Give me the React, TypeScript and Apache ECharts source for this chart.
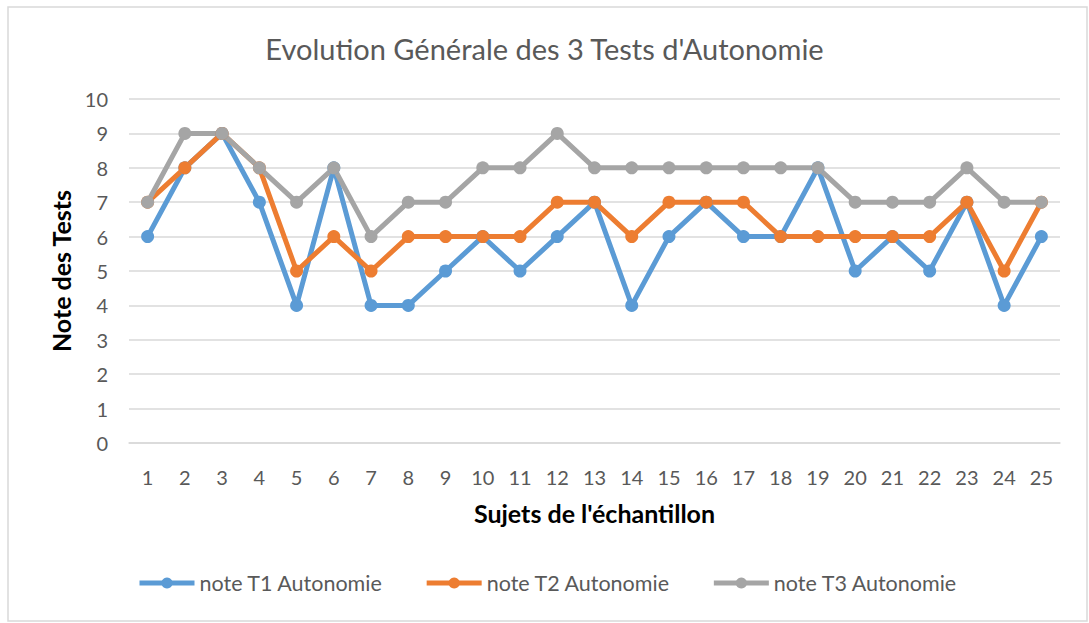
import React, { useEffect, useRef } from "react";
import * as echarts from "echarts";

const subjects = ["1","2","3","4","5","6","7","8","9","10","11","12","13","14","15","16","17","18","19","20","21","22","23","24","25"];
const t1 = [6, 8, 9, 7, 4, 8, 4, 4, 5, 6, 5, 6, 7, 4, 6, 7, 6, 6, 8, 5, 6, 5, 7, 4, 6];
const t2 = [7, 8, 9, 8, 5, 6, 5, 6, 6, 6, 6, 7, 7, 6, 7, 7, 7, 6, 6, 6, 6, 6, 7, 5, 7];
const t3 = [7, 9, 9, 8, 7, 8, 6, 7, 7, 8, 8, 9, 8, 8, 8, 8, 8, 8, 8, 7, 7, 7, 8, 7, 7];
const seriesNames = ["note T1 Autonomie", "note T2 Autonomie", "note T3 Autonomie"];
const colors = ["#5B9BD5", "#ED7D31", "#A5A5A5"];

const FONT = "Lato, 'Open Sans', sans-serif";

export default function App() {
  const ref = useRef<HTMLDivElement>(null);
  useEffect(() => {
    if (!ref.current) return;
    const chart = echarts.init(ref.current, undefined, { renderer: "svg" });
    const mk = (name: string, data: number[], color: string) => ({
      name,
      type: "line",
      data,
      symbol: "circle",
      symbolSize: 13,
      lineStyle: { width: 5, color },
      itemStyle: { color },
      emphasis: { disabled: true },
    });
    chart.setOption({
      animation: false,
      backgroundColor: "#ffffff",
      textStyle: { fontFamily: FONT },
      title: {
        text: "Evolution Générale des 3 Tests d'Autonomie",
        left: "center",
        top: 29,
        textStyle: { fontFamily: FONT, fontSize: 29, fontWeight: "normal", color: "#595959" },
      },
      graphic: [
        {
          type: "rect",
          shape: { x: 8, y: 7, width: 1079, height: 614 },
          style: { fill: "none", stroke: "#d9d9d9", lineWidth: 1.5 },
          silent: true,
          z: -1,
        },
      ],
      legend: {
        data: seriesNames,
        left: 132,
        top: 567,
        itemWidth: 55,
        itemHeight: 14,
        itemGap: 41,
        lineStyle: { width: 5 },
        textStyle: { fontFamily: FONT, fontSize: 21.5, color: "#595959" },
      },
      grid: { left: 129, right: 29, top: 99, bottom: 180, containLabel: false },
      xAxis: {
        type: "category",
        data: subjects,
        boundaryGap: true,
        name: "Sujets de l'échantillon",
        nameLocation: "middle",
        nameGap: 57,
        nameTextStyle: { fontFamily: FONT, fontSize: 25, fontWeight: "bold", color: "#000000" },
        axisLine: { lineStyle: { color: "#d9d9d9", width: 1.5 } },
        axisTick: { show: false },
        axisLabel: { fontFamily: FONT, fontSize: 20, color: "#595959", margin: 24, interval: 0 },
      },
      yAxis: {
        type: "value",
        min: 0,
        max: 10,
        interval: 1,
        name: "Note des Tests",
        nameLocation: "middle",
        nameGap: 54,
        nameRotate: 90,
        nameTextStyle: { fontFamily: FONT, fontSize: 25, fontWeight: "bold", color: "#000000" },
        axisLine: { show: false },
        axisTick: { show: false },
        splitLine: { lineStyle: { color: "#d9d9d9", width: 1.5 } },
        axisLabel: { fontFamily: FONT, fontSize: 20, color: "#595959", margin: 21 },
      },
      series: [
        mk(seriesNames[0], t1, colors[0]),
        mk(seriesNames[1], t2, colors[1]),
        mk(seriesNames[2], t3, colors[2]),
      ],
    });
    return () => chart.dispose();
  }, []);
  return (
    <div style={{ position: "absolute", left: 0, top: 0, width: 1089, height: 623, background: "#fff" }}>
      <div ref={ref} style={{ width: 1089, height: 623 }} />
    </div>
  );
}
